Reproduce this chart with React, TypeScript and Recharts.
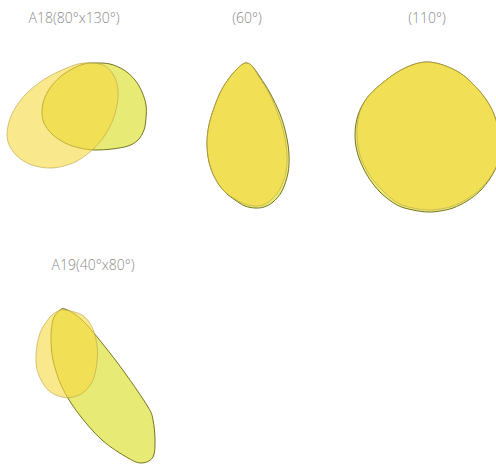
import React from 'react';
import { ScatterChart, Scatter, XAxis, YAxis } from 'recharts';

type Pt = { x: number; y: number };

// panel titles
const titles = ['A18(80°x130°)', '(60°)', '(110°)', 'A19(40°x80°)'];

// outlines (panel-local units, y downwards)
const a18Front: Pt[] = [
  { x: 95, y: 13 }, { x: 110, y: 14 }, { x: 124, y: 20 }, { x: 135, y: 30 },
  { x: 142, y: 42 }, { x: 146, y: 55 }, { x: 146, y: 68 }, { x: 144, y: 80 },
  { x: 138, y: 90 }, { x: 128, y: 96 }, { x: 112, y: 99 }, { x: 95, y: 100 },
  { x: 80, y: 98 }, { x: 65, y: 93 }, { x: 52, y: 84 }, { x: 44, y: 73 },
  { x: 42, y: 62 }, { x: 44, y: 50 }, { x: 50, y: 38 }, { x: 60, y: 27 },
  { x: 72, y: 19 }, { x: 84, y: 14 },
];
const a18Back: Pt[] = [
  { x: 92, y: 13 }, { x: 105, y: 16 }, { x: 114, y: 26 }, { x: 118, y: 40 },
  { x: 117, y: 55 }, { x: 112, y: 72 }, { x: 103, y: 88 }, { x: 90, y: 102 },
  { x: 73, y: 113 }, { x: 52, y: 118 }, { x: 32, y: 115 }, { x: 17, y: 106 },
  { x: 8, y: 92 }, { x: 8, y: 76 }, { x: 14, y: 60 }, { x: 26, y: 44 },
  { x: 43, y: 30 }, { x: 62, y: 20 }, { x: 78, y: 14 },
];
const a60Front: Pt[] = [
  { x: 57, y: 13 }, { x: 62, y: 16 }, { x: 70, y: 27 }, { x: 80, y: 43 },
  { x: 90, y: 64 }, { x: 96, y: 84 }, { x: 99, y: 104 }, { x: 98, y: 123 },
  { x: 92, y: 141 }, { x: 83, y: 152 }, { x: 74, y: 157 }, { x: 65, y: 158 },
  { x: 55, y: 156 }, { x: 45, y: 150 }, { x: 34, y: 141 }, { x: 25, y: 128 },
  { x: 19, y: 112 }, { x: 17, y: 93 }, { x: 19, y: 75 }, { x: 24, y: 58 },
  { x: 31, y: 41 }, { x: 40, y: 27 }, { x: 49, y: 17 }, { x: 53, y: 14 },
];
const a60Back: Pt[] = [
  { x: 57, y: 13 }, { x: 62, y: 16 }, { x: 69, y: 27 }, { x: 79, y: 43 },
  { x: 88, y: 64 }, { x: 94, y: 84 }, { x: 97, y: 104 }, { x: 96, y: 122 },
  { x: 90, y: 139 }, { x: 81, y: 150 }, { x: 73, y: 155 }, { x: 65, y: 156 },
  { x: 55, y: 154 }, { x: 45, y: 149 }, { x: 34, y: 141 }, { x: 25, y: 128 },
  { x: 19, y: 112 }, { x: 17, y: 93 }, { x: 19, y: 75 }, { x: 24, y: 58 },
  { x: 31, y: 41 }, { x: 40, y: 27 }, { x: 49, y: 17 }, { x: 53, y: 14 },
];
const a110Front: Pt[] = [
  { x: 87, y: 12 }, { x: 103, y: 15 }, { x: 120, y: 23 }, { x: 133, y: 34 },
  { x: 145, y: 48 }, { x: 153, y: 62 }, { x: 158, y: 78 }, { x: 160, y: 95 },
  { x: 158, y: 112 }, { x: 151, y: 127 }, { x: 140, y: 141 }, { x: 127, y: 151 },
  { x: 113, y: 158 }, { x: 100, y: 161 }, { x: 88, y: 162 }, { x: 73, y: 160 },
  { x: 57, y: 155 }, { x: 40, y: 142 }, { x: 27, y: 125 }, { x: 18, y: 105 },
  { x: 15, y: 85 }, { x: 18, y: 65 }, { x: 27, y: 48 }, { x: 40, y: 35 },
  { x: 56, y: 23 }, { x: 72, y: 15 },
];
const a110Back: Pt[] = [
  { x: 87, y: 12 }, { x: 103, y: 15 }, { x: 120, y: 23 }, { x: 133, y: 34 },
  { x: 145, y: 48 }, { x: 153, y: 62 }, { x: 158, y: 78 }, { x: 160, y: 95 },
  { x: 158, y: 112 }, { x: 151, y: 126 }, { x: 140, y: 139 }, { x: 127, y: 149 },
  { x: 113, y: 156 }, { x: 100, y: 159 }, { x: 88, y: 160 }, { x: 73, y: 158 },
  { x: 58, y: 153 }, { x: 42, y: 140 }, { x: 29, y: 124 }, { x: 20, y: 105 },
  { x: 17, y: 85 }, { x: 19, y: 65 }, { x: 27, y: 48 }, { x: 40, y: 35 },
  { x: 56, y: 23 }, { x: 72, y: 15 },
];
const a19Front: Pt[] = [
  { x: 45, y: 9 }, { x: 62, y: 20 }, { x: 82, y: 43 }, { x: 105, y: 73 },
  { x: 128, y: 107 }, { x: 133, y: 120 }, { x: 135, y: 140 }, { x: 133, y: 157 },
  { x: 122, y: 163 }, { x: 108, y: 158 }, { x: 82, y: 140 }, { x: 58, y: 113 },
  { x: 42, y: 87 }, { x: 33, y: 60 }, { x: 31, y: 37 }, { x: 33, y: 20 },
  { x: 38, y: 12 },
];
const a19Back: Pt[] = [
  { x: 45, y: 10 }, { x: 62, y: 15 }, { x: 72, y: 27 }, { x: 77, y: 45 },
  { x: 77, y: 62 }, { x: 73, y: 80 }, { x: 64, y: 92 }, { x: 53, y: 97 },
  { x: 42, y: 97 }, { x: 28, y: 90 }, { x: 18, y: 73 }, { x: 16, y: 55 },
  { x: 20, y: 33 }, { x: 30, y: 17 }, { x: 38, y: 11 },
];

const FRONT = { fill: '#e8ea76', stroke: '#75741e', fillOpacity: 1, strokeOpacity: 1 };
const BACK = { fill: '#f6d840', stroke: '#b8a048', fillOpacity: 0.6, strokeOpacity: 0.6 };

// closed catmull-rom through the projected points
const closedPath = (pts: Pt[]) => {
  const n = pts.length;
  let d = `M${pts[0].x},${pts[0].y}`;
  for (let i = 0; i < n; i++) {
    const p0 = pts[(i - 1 + n) % n];
    const p1 = pts[i];
    const p2 = pts[(i + 1) % n];
    const p3 = pts[(i + 2) % n];
    const c1x = p1.x + (p2.x - p0.x) / 6;
    const c1y = p1.y + (p2.y - p0.y) / 6;
    const c2x = p2.x - (p3.x - p1.x) / 6;
    const c2y = p2.y - (p3.y - p1.y) / 6;
    d += ` C${c1x},${c1y} ${c2x},${c2y} ${p2.x},${p2.y}`;
  }
  return d + 'Z';
};

const blob = (style: typeof FRONT) => (props: any) => (
  <path
    d={closedPath(props.points)}
    fill={style.fill}
    fillOpacity={style.fillOpacity}
    stroke={style.stroke}
    strokeOpacity={style.strokeOpacity}
    strokeWidth={1}
  />
);

interface PanelProps {
  left: number;
  top: number;
  width: number;
  height: number;
  front: Pt[];
  back: Pt[];
}

const Panel: React.FC<PanelProps> = ({ left, top, width, height, front, back }) => (
  <div style={{ position: 'absolute', left, top }}>
    <ScatterChart width={width} height={height} margin={{ top: 0, right: 0, bottom: 0, left: 0 }}>
      <XAxis type="number" dataKey="x" domain={[0, width]} hide />
      <YAxis type="number" dataKey="y" domain={[0, height]} reversed hide />
      <Scatter data={front} line={blob(FRONT)} shape={() => <g />} isAnimationActive={false} />
      <Scatter data={back} line={blob(BACK)} shape={() => <g />} isAnimationActive={false} />
    </ScatterChart>
  </div>
);

const Title: React.FC<{ text: string; cx: number; cy: number }> = ({ text, cx, cy }) => (
  <div
    style={{
      position: 'absolute',
      left: cx - 80,
      top: cy - 10,
      width: 160,
      lineHeight: '20px',
      textAlign: 'center',
      fontSize: 14,
      fontWeight: 300,
      color: '#8a8a8a',
      fontFamily: '"Open Sans", "Noto Sans", sans-serif',
    }}
  >
    {text}
  </div>
);

export default function App() {
  return (
    <div
      style={{
        position: 'absolute',
        left: 0,
        top: 0,
        width: 496,
        height: 464,
        overflow: 'hidden',
        background: '#fff',
      }}
    >
      <Title text={titles[0]} cx={74} cy={18} />
      <Title text={titles[1]} cx={247} cy={18} />
      <Title text={titles[2]} cx={427} cy={18} />
      <Title text={titles[3]} cx={93} cy={265} />
      <Panel left={0} top={50} width={170} height={140} front={a18Front} back={a18Back} />
      <Panel left={190} top={50} width={120} height={170} front={a60Front} back={a60Back} />
      <Panel left={340} top={50} width={170} height={175} front={a110Front} back={a110Back} />
      <Panel left={20} top={300} width={150} height={170} front={a19Front} back={a19Back} />
    </div>
  );
}
